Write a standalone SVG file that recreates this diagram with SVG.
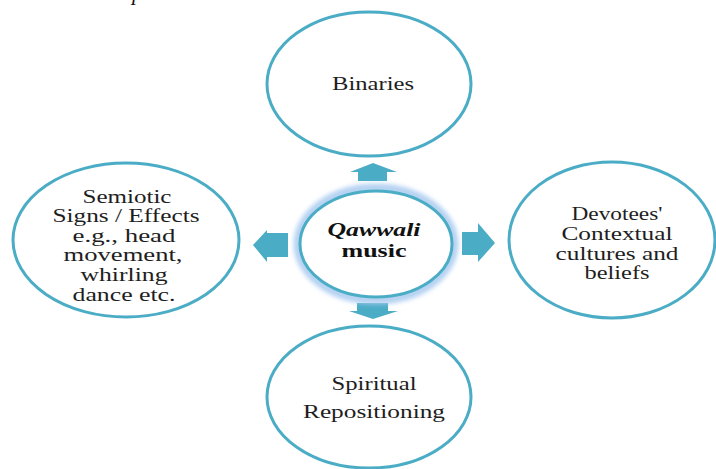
<svg xmlns="http://www.w3.org/2000/svg" width="716" height="469" viewBox="0 0 716 469">
<defs>
<style>
.node{fill:#ffffff;stroke:#4BACC6;stroke-width:3}
.lbl{font-family:"Liberation Serif","Times New Roman",serif;font-size:19px;fill:#1e1e1e;text-anchor:middle}
.ctr{font-family:"Liberation Serif","Times New Roman",serif;font-size:19px;font-weight:bold;fill:#111;text-anchor:middle}
.arr{fill:#4BACC6}
</style>
<filter id="glow" x="-30%" y="-30%" width="160%" height="160%">
<feGaussianBlur stdDeviation="2"/>
</filter>
</defs>
<rect width="716" height="469" fill="#ffffff"/>
<text x="132" y="0" style="font-family:'Liberation Serif',serif;font-size:22px;font-style:italic;fill:#111">p</text>

<g id="connectors">
<polygon class="arr" points="373,163 397,172 387,172 387,181 358,181 358,172 350,172"/>
<polygon class="arr" points="357,303 388,303 388,311 398,311 373,319 349,311 357,311"/>
<polygon class="arr" points="253,245 267,230 267,233 288,233 288,257 267,257 267,262"/>
<polygon class="arr" points="462,232 478,232 478,223 495,243 478,262 478,255 462,255"/>
</g>

<g id="node-binaries">
<ellipse class="node" cx="369" cy="84" rx="102" ry="72"/>
<text class="lbl" x="373" y="90" textLength="82" lengthAdjust="spacingAndGlyphs">Binaries</text>
</g>

<g id="node-semiotic">
<ellipse class="node" cx="126" cy="240" rx="113" ry="77"/>
<text class="lbl" x="127" y="203" textLength="89" lengthAdjust="spacingAndGlyphs">Semiotic</text>
<text class="lbl" x="126" y="222" textLength="147" lengthAdjust="spacingAndGlyphs">Signs / Effects</text>
<text class="lbl" x="124" y="242" textLength="103" lengthAdjust="spacingAndGlyphs">e.g., head</text>
<text class="lbl" x="123" y="261" textLength="119" lengthAdjust="spacingAndGlyphs">movement,</text>
<text class="lbl" x="124" y="281" textLength="87" lengthAdjust="spacingAndGlyphs">whirling</text>
<text class="lbl" x="124" y="301" textLength="103" lengthAdjust="spacingAndGlyphs">dance etc.</text>
</g>

<g id="node-devotees">
<ellipse class="node" cx="612" cy="240" rx="103" ry="78"/>
<text class="lbl" x="617" y="220" textLength="91" lengthAdjust="spacingAndGlyphs">Devotees'</text>
<text class="lbl" x="617" y="240" textLength="111" lengthAdjust="spacingAndGlyphs">Contextual</text>
<text class="lbl" x="617" y="260" textLength="123" lengthAdjust="spacingAndGlyphs">cultures and</text>
<text class="lbl" x="617" y="279" textLength="65" lengthAdjust="spacingAndGlyphs">beliefs</text>
</g>

<g id="node-spiritual">
<ellipse class="node" cx="369" cy="397" rx="102" ry="71"/>
<text class="lbl" x="374" y="390" textLength="85" lengthAdjust="spacingAndGlyphs">Spiritual</text>
<text class="lbl" x="374" y="418" textLength="142" lengthAdjust="spacingAndGlyphs">Repositioning</text>
</g>

<g id="node-qawwali">
<ellipse cx="376" cy="244" rx="78" ry="56" fill="none" stroke="#a9cbf0" stroke-width="9" opacity="0.85" filter="url(#glow)"/>
<ellipse class="node" cx="376" cy="244" rx="76" ry="53"/>
<text class="ctr" x="374" y="236" font-style="italic" textLength="93" lengthAdjust="spacingAndGlyphs">Qawwali</text>
<text class="ctr" x="374" y="257" textLength="65" lengthAdjust="spacingAndGlyphs">music</text>
</g>
</svg>
